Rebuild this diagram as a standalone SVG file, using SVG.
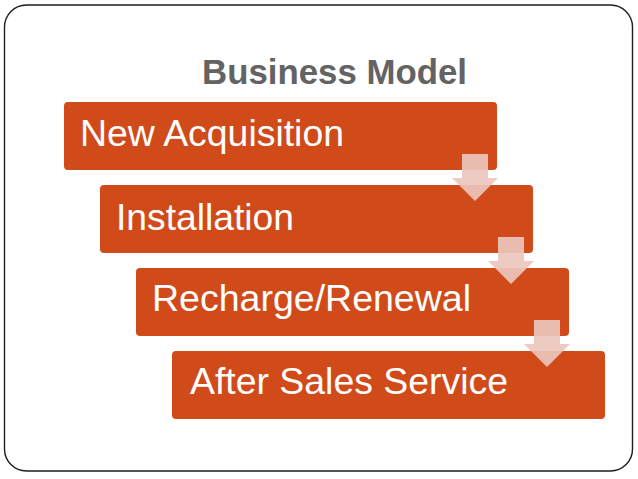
<svg xmlns="http://www.w3.org/2000/svg" width="638" height="479" viewBox="0 0 638 479">
  <style>
    .box { fill: #D14B1A; }
    .lbl { font-family: "Liberation Sans", Arial, Helvetica, sans-serif; font-size: 37px; fill: #FFFFFF; }
    .title { font-family: "Liberation Sans", Arial, Helvetica, sans-serif; font-size: 35px; font-weight: bold; fill: #636363; }
    .arr { fill: #EBC6BD; fill-opacity: 0.92; }
  </style>
  <rect x="0" y="0" width="638" height="479" fill="#FFFFFF"/>
  <rect id="frame" x="4.5" y="5" width="628" height="466" rx="22" ry="22" fill="none" stroke="#1E1E1E" stroke-width="1.4"/>
  <text id="title" class="title" x="202" y="84" textLength="265" lengthAdjust="spacingAndGlyphs">Business Model</text>

  <g id="node1">
    <rect class="box" x="64" y="102" width="433" height="68" rx="4"/>
    <text class="lbl" x="80" y="146" textLength="264" lengthAdjust="spacingAndGlyphs">New Acquisition</text>
  </g>
  <g id="node2">
    <rect class="box" x="100" y="185" width="433" height="68" rx="4"/>
    <text class="lbl" x="116" y="230" textLength="178" lengthAdjust="spacingAndGlyphs">Installation</text>
  </g>
  <g id="node3">
    <rect class="box" x="136" y="268" width="433" height="68" rx="4"/>
    <text class="lbl" x="152" y="311" textLength="319" lengthAdjust="spacingAndGlyphs">Recharge/Renewal</text>
  </g>
  <g id="node4">
    <rect class="box" x="172" y="351" width="433" height="68" rx="4"/>
    <text class="lbl" x="190" y="394" textLength="318" lengthAdjust="spacingAndGlyphs">After Sales Service</text>
  </g>

  <g id="connectors">
    <polygon class="arr" points="462,154 488,154 488,178 498,178 475,201 452,178 462,178"/>
    <polygon class="arr" points="498,237 524,237 524,261 534,261 511,284 488,261 498,261"/>
    <polygon class="arr" points="534,320 560,320 560,344 570,344 547,367 524,344 534,344"/>
  </g>
</svg>
